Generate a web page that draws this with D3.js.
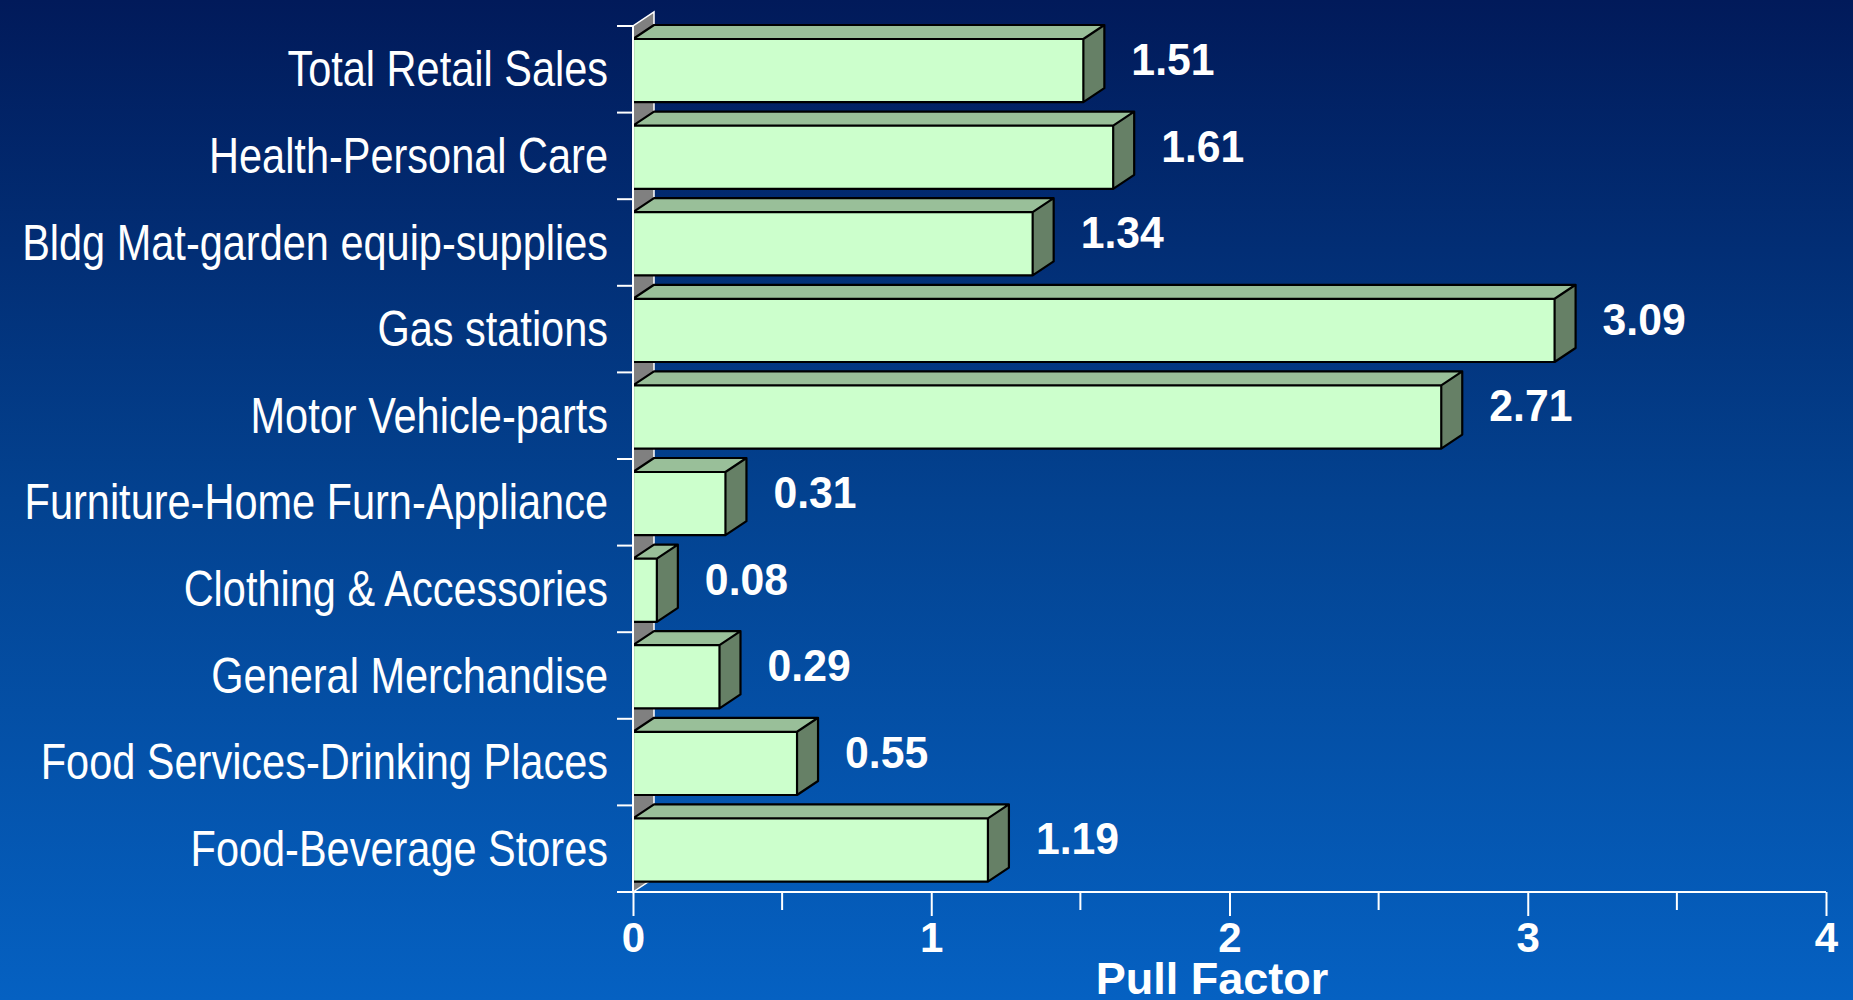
<!DOCTYPE html>
<html>
<head>
<meta charset="utf-8">
<script src="https://cdn.jsdelivr.net/npm/d3@7"></script>
<style>
  html, body { margin: 0; padding: 0; overflow: hidden; }
  svg text { font-family: "Liberation Sans", Arial, sans-serif; fill: #fff; }
</style>
</head>
<body>
<script>
// chart data
var categories = [
  "Total Retail Sales",
  "Health-Personal Care",
  "Bldg Mat-garden equip-supplies",
  "Gas stations",
  "Motor Vehicle-parts",
  "Furniture-Home Furn-Appliance",
  "Clothing & Accessories",
  "General Merchandise",
  "Food Services-Drinking Places",
  "Food-Beverage Stores"
];
var pullFactors = [1.51, 1.61, 1.34, 3.09, 2.71, 0.31, 0.08, 0.29, 0.55, 1.19];
var xTickValues = [0, 1, 2, 3, 4];
var xMinorTicks = [0.5, 1.5, 2.5, 3.5];
var axisTitle = "Pull Factor";

var svgWidth = 1853;
var svgHeight = 1000;

// plot area (front plane of the 3d chart)
var plot = { left: 633, right: 1826, top: 26, bottom: 892 };
// depth offset of the 3d bars and wall
var depth = { dx: 21, dy: 14 };

var svg = d3.select("body")
  .append("svg")
  .attr("width", svgWidth)
  .attr("height", svgHeight);

// background gradient
var defs = svg.append("defs");
var grad = defs.append("linearGradient")
  .attr("id", "bg")
  .attr("x1", 0).attr("y1", 0).attr("x2", 0).attr("y2", 1);
grad.append("stop").attr("offset", "0%").attr("stop-color", "#011a5a");
grad.append("stop").attr("offset", "50%").attr("stop-color", "#034290");
grad.append("stop").attr("offset", "100%").attr("stop-color", "#0561c2");

svg.append("rect")
  .attr("width", svgWidth)
  .attr("height", svgHeight)
  .attr("fill", "url(#bg)");

var xScale = d3.scaleLinear()
  .domain([0, 4])
  .range([plot.left, plot.right]);

var yScale = d3.scaleBand()
  .domain(categories)
  .range([plot.top, plot.bottom]);

var band = yScale.bandwidth();
var barTop = band * 0.15;
var barHeight = band * 0.73;

// side wall
var x0 = plot.left;
svg.append("path")
  .attr("d", "M" + x0 + "," + plot.bottom +
    "L" + (x0 + depth.dx) + "," + (plot.bottom - depth.dy) +
    "L" + (x0 + depth.dx) + "," + (plot.top - depth.dy) +
    "L" + x0 + "," + plot.top + "Z")
  .attr("fill", "#808080")
  .attr("stroke", "#ffffff")
  .attr("stroke-width", 1.5);

// bars
var bars = svg.append("g").attr("class", "bars");
categories.forEach(function(cat, i) {
  var v = pullFactors[i];
  var x1 = xScale(v);
  var yt = yScale(cat) + barTop;
  var yb = yt + barHeight;
  var g = bars.append("g");
  g.append("rect")
    .attr("x", x0)
    .attr("y", yt)
    .attr("width", x1 - x0)
    .attr("height", barHeight)
    .attr("fill", "#ccffcc");
  g.append("path")
    .attr("d", "M" + x0 + "," + yt +
      "L" + (x0 + depth.dx) + "," + (yt - depth.dy) +
      "L" + (x1 + depth.dx) + "," + (yt - depth.dy) +
      "L" + x1 + "," + yt + "Z")
    .attr("fill", "#99bf99");
  g.append("path")
    .attr("d", "M" + x1 + "," + yt +
      "L" + (x1 + depth.dx) + "," + (yt - depth.dy) +
      "L" + (x1 + depth.dx) + "," + (yb - depth.dy) +
      "L" + x1 + "," + yb + "Z")
    .attr("fill", "#668066");
  // outlines
  g.append("path")
    .attr("d", "M" + x0 + "," + yb + "L" + x1 + "," + yb +
      "L" + (x1 + depth.dx) + "," + (yb - depth.dy) +
      "L" + (x1 + depth.dx) + "," + (yt - depth.dy) +
      "L" + (x0 + depth.dx) + "," + (yt - depth.dy) +
      "L" + x0 + "," + yt + "L" + x1 + "," + yt +
      "L" + (x1 + depth.dx) + "," + (yt - depth.dy) +
      "M" + x1 + "," + yt + "L" + x1 + "," + yb +
      "M" + x0 + "," + yt + "L" + x0 + "," + yb)
    .attr("fill", "none")
    .attr("stroke", "#000")
    .attr("stroke-width", 2.2)
    .attr("stroke-linejoin", "round");

  // value label
  svg.append("g")
    .attr("transform", "translate(" + (x1 + depth.dx + 27) + "," + (yScale(cat) + 34 + 15) + ") scale(0.95,1)")
    .append("text")
    .attr("font-size", 45)
    .attr("font-weight", "bold")
    .text(d3.format(".2f")(v));
});

// y axis line and category ticks
svg.append("line")
  .attr("x1", plot.left).attr("x2", plot.left)
  .attr("y1", plot.top).attr("y2", plot.bottom)
  .attr("stroke", "#fff").attr("stroke-width", 2);

var yTickPos = categories.map(function(c) { return yScale(c); }).concat([plot.bottom]);
svg.append("g").selectAll("line")
  .data(yTickPos)
  .enter().append("line")
  .attr("x1", plot.left - 16).attr("x2", plot.left)
  .attr("y1", function(d) { return d; })
  .attr("y2", function(d) { return d; })
  .attr("stroke", "#fff").attr("stroke-width", 2);

// category labels
svg.append("g").selectAll("g")
  .data(categories)
  .enter().append("g")
  .attr("transform", function(d) {
    return "translate(" + (plot.left - 25) + "," + (yScale(d) + band / 2 + 17) + ") scale(0.83,1)";
  })
  .append("text")
  .attr("text-anchor", "end")
  .attr("font-size", 50)
  .text(function(d) { return d; });

// x axis
var xAxis = d3.axisBottom(xScale)
  .tickValues(xTickValues)
  .tickSize(24)
  .tickPadding(6)
  .tickFormat(d3.format("d"));

var xAxisG = svg.append("g")
  .attr("transform", "translate(0," + plot.bottom + ")")
  .call(xAxis);
xAxisG.select(".domain").remove();
xAxisG.selectAll("line").attr("stroke", "#fff").attr("stroke-width", 2);
xAxisG.selectAll("text")
  .attr("font-size", 42)
  .attr("font-weight", "bold")
  .attr("fill", "#fff")
  .attr("font-family", "Liberation Sans, Arial, sans-serif");

svg.append("line")
  .attr("x1", plot.left - 16).attr("x2", plot.right)
  .attr("y1", plot.bottom).attr("y2", plot.bottom)
  .attr("stroke", "#fff").attr("stroke-width", 2);

svg.append("g").selectAll("line")
  .data(xMinorTicks)
  .enter().append("line")
  .attr("x1", function(d) { return xScale(d); })
  .attr("x2", function(d) { return xScale(d); })
  .attr("y1", plot.bottom).attr("y2", plot.bottom + 18)
  .attr("stroke", "#fff").attr("stroke-width", 2);

// axis title
svg.append("text")
  .attr("x", 1212)
  .attr("y", 994)
  .attr("text-anchor", "middle")
  .attr("font-size", 45)
  .attr("font-weight", "bold")
  .text(axisTitle);
</script>
</body>
</html>
